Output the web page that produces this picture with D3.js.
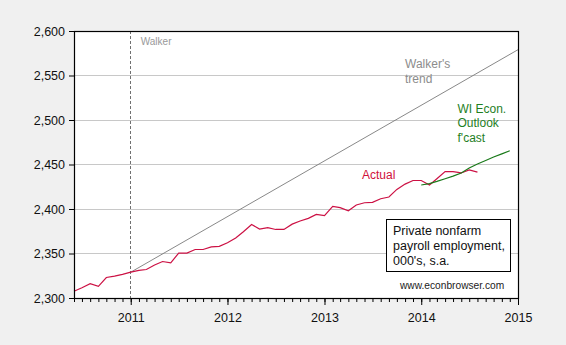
<!DOCTYPE html>
<html><head><meta charset="utf-8">
<script src="https://cdn.jsdelivr.net/npm/d3@7"></script>
<style>
html,body{margin:0;padding:0;background:#f0f0f0;}
svg{display:block;font-family:"Liberation Sans",Arial,sans-serif;}
</style></head><body>
<svg id="chart" width="566" height="345"></svg>
<script>
// ---- data ----
const actualStart = "2010-06";
const actualValues = [
  2307.5, 2311.5, 2316, 2313, 2323, 2324.5, 2326.5,
  2329, 2331, 2332, 2337, 2341, 2339.5, 2350.5, 2350.5, 2354.5, 2354.5, 2357.5, 2358,
  2362, 2367.5, 2374.5, 2382.5, 2377.5, 2379, 2377, 2377, 2383, 2386.5, 2389.5, 2394,
  2392.5, 2403, 2401.5, 2398, 2404.5, 2407, 2407.5, 2411.5, 2413.5, 2422, 2428, 2432,
  2432, 2427, 2434, 2442, 2442, 2440.5, 2444, 2441.5
];
const trendDates = ["2011-01", "2015-01"];
const trendValues = [2329, 2579];
const forecastStart = "2014-01";
const forecastValues = [2427, 2428.5, 2431, 2434, 2437, 2440.5, 2446, 2450.5, 2454.5, 2458.5, 2462, 2465.5];
const yTicks = [2300, 2350, 2400, 2450, 2500, 2550, 2600];
const xTickYears = [2011, 2012, 2013, 2014, 2015];
const walkerDate = "2011-01";

// ---- setup ----
const parse = d3.timeParse("%Y-%m");
const svg = d3.select("#chart");
const m = {left: 74, right: 518, top: 31, bottom: 298};
const x = d3.scaleTime().domain([parse("2010-06"), parse("2015-01")]).range([m.left, m.right]);
const y = d3.scaleLinear().domain([2300, 2600]).range([m.bottom, m.top]);

const monthSeries = (start, vals) => vals.map((v, i) => ({d: d3.timeMonth.offset(parse(start), i), v}));
const actual = monthSeries(actualStart, actualValues);
const forecast = monthSeries(forecastStart, forecastValues);
const trend = trendDates.map((s, i) => ({d: parse(s), v: trendValues[i]}));

// plot background
svg.append("rect").attr("x", m.left).attr("y", m.top)
  .attr("width", m.right - m.left).attr("height", m.bottom - m.top).attr("fill", "#fff");

// gridlines
svg.append("g").selectAll("line").data(yTicks.slice(1, -1)).join("line")
  .attr("x1", m.left).attr("x2", m.right)
  .attr("y1", d => y(d)).attr("y2", d => y(d))
  .attr("stroke", "#c8c8c8").attr("stroke-width", 1).attr("shape-rendering", "crispEdges");

// Walker vertical line
svg.append("line").attr("x1", x(parse(walkerDate))).attr("x2", x(parse(walkerDate)))
  .attr("y1", m.top).attr("y2", m.bottom)
  .attr("stroke", "#707070").attr("stroke-width", 1).attr("stroke-dasharray", "3,2")
  .attr("shape-rendering", "crispEdges");
svg.append("text").attr("x", x(parse(walkerDate)) + 10).attr("y", 45)
  .attr("font-size", 10).attr("fill", "#999").text("Walker");

const line = d3.line().x(d => x(d.d)).y(d => y(d.v));

svg.append("path").datum(trend).attr("d", line).attr("fill", "none")
  .attr("stroke", "#7a7a7a").attr("stroke-width", 0.9);
svg.append("path").datum(actual).attr("d", line).attr("fill", "none")
  .attr("stroke", "#cc1144").attr("stroke-width", 1.2);
svg.append("path").datum(forecast).attr("d", line).attr("fill", "none")
  .attr("stroke", "#1a7a1a").attr("stroke-width", 1.2);

// frame
svg.append("rect").attr("x", m.left + 0.5).attr("y", m.top + 0.5)
  .attr("width", m.right - m.left).attr("height", m.bottom - m.top)
  .attr("fill", "none").attr("stroke", "#000").attr("stroke-width", 1.2);

// y axis
const yAxis = d3.axisLeft(y).tickValues(yTicks).tickFormat(d3.format(",")).tickSize(5).tickPadding(4);
const gy = svg.append("g").attr("transform", `translate(${m.left},0)`).call(yAxis);
gy.select(".domain").remove();
gy.selectAll("text").attr("font-size", 12.5).attr("fill", "#111").attr("font-family", "Liberation Sans, Arial, sans-serif");
gy.selectAll("line").attr("stroke", "#000");

// x axis: minor monthly ticks
const months = d3.timeMonth.range(parse("2010-06"), d3.timeMonth.offset(parse("2015-01"), 1));
const xAxisMinor = d3.axisBottom(x).tickValues(months).tickSize(4).tickFormat("");
const gxm = svg.append("g").attr("transform", `translate(0,${m.bottom})`).call(xAxisMinor);
gxm.select(".domain").remove();
gxm.selectAll("line").attr("stroke", "#000");
const yearDates = xTickYears.map(yy => new Date(yy, 0, 1));
const xAxis = d3.axisBottom(x).tickValues(yearDates).tickSize(7).tickPadding(8).tickFormat(d3.timeFormat("%Y"));
const gx = svg.append("g").attr("transform", `translate(0,${m.bottom})`).call(xAxis);
gx.select(".domain").remove();
gx.selectAll("line").attr("stroke", "#000");
gx.selectAll("text").attr("font-size", 12.5).attr("fill", "#111").attr("font-family", "Liberation Sans, Arial, sans-serif");

// annotations
svg.append("text").attr("x", 405).attr("font-size", 12).attr("fill", "#8c8c8c")
  .selectAll("tspan").data(["Walker's", "trend"]).join("tspan")
  .attr("x", 405).attr("y", (d, i) => 68 + i * 14.5).text(d => d);
svg.append("text").attr("font-size", 12).attr("fill", "#1f7f1f")
  .selectAll("tspan").data(["WI Econ.", "Outlook", "f'cast"]).join("tspan")
  .attr("x", 457.5).attr("y", (d, i) => 112.5 + i * 14.5).text(d => d);
svg.append("text").attr("x", 362).attr("y", 179).attr("font-size", 12).attr("fill", "#d0103a").text("Actual");

// note box
svg.append("rect").attr("x", 386.5).attr("y", 219.5).attr("width", 124).attr("height", 52)
  .attr("fill", "#fff").attr("stroke", "#000").attr("stroke-width", 1);
svg.append("text").attr("font-size", 12.5).attr("fill", "#111")
  .selectAll("tspan").data(["Private nonfarm", "payroll employment,", "000's, s.a."]).join("tspan")
  .attr("x", 393).attr("y", (d, i) => 235 + i * 15).text(d => d);
svg.append("text").attr("x", 400).attr("y", 289).attr("font-size", 10.2).attr("fill", "#222")
  .text("www.econbrowser.com");
</script>
</body></html>
